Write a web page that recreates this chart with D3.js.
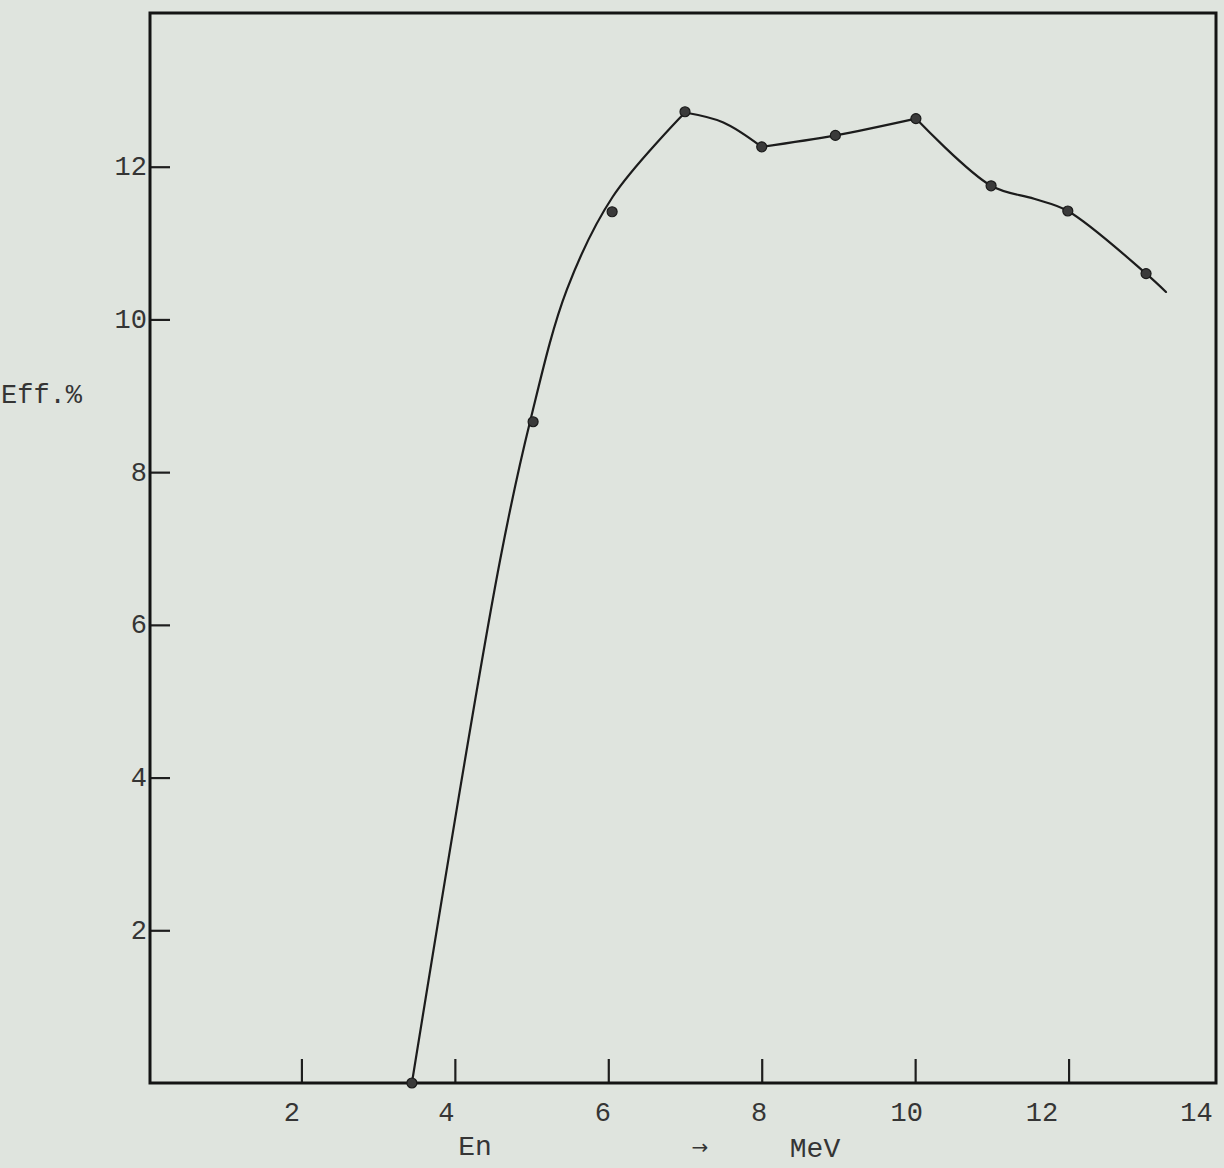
<!DOCTYPE html>
<html>
<head>
<meta charset="utf-8">
<script src="https://cdn.jsdelivr.net/npm/d3@7"></script>
<style>
  html, body { margin: 0; padding: 0; background: #dfe4de; }
  svg { display: block; }
  text { font-family: "Liberation Mono", "DejaVu Sans Mono", monospace; fill: #353535; }
</style>
</head>
<body>
<div id="chart"></div>
<script>
// measured points (neutron energy MeV, efficiency %)
const pointE = [3.44, 5.02, 6.05, 7.00, 8.00, 8.96, 10.01, 10.99, 11.99, 13.01]
const pointEff = [0.0, 8.66, 11.41, 12.72, 12.26, 12.41, 12.63, 11.75, 11.42, 10.60]

// hand drawn curve
const curveE = [3.44, 4.59, 4.98, 5.46, 6.06, 7.00,
  7.50, 8.00, 8.96, 10.01, 10.99, 11.55, 11.99, 13.01, 13.27]
const curveEff = [0.0, 6.85, 8.66, 10.39, 11.61, 12.71,
  12.58, 12.26, 12.41, 12.63, 11.75, 11.58, 11.42, 10.60, 10.36]
// the pen makes a corner at these energies
const cornerE = [7.00, 8.00, 10.01]

const xTicks = [2, 4, 6, 8, 10, 12, 14]
const yTicks = [2, 4, 6, 8, 10, 12]

let width = 1224
let height = 1168

let x = d3.scaleLinear().domain([0, 14]).range([148, 1222])
let y = d3.scaleLinear().domain([0, 14]).range([1083, 14])

// typed labels sit a little left of their ticks
let xLabelShift = { 2: -10, 4: -9, 6: -6, 8: -3, 10: -9, 12: -27, 14: -26 }

let svg = d3.select('#chart').append('svg')
  .attr('width', width)
  .attr('height', height)

// x axis
let xAxis = svg.append('g')
  .attr('class', 'x axis')
  .attr('transform', 'translate(0,' + y(0) + ')')
  .call(d3.axisBottom(x).tickValues(xTicks).tickSize(-24).tickSizeOuter(0))
xAxis.select('.domain').remove()
xAxis.selectAll('.tick line')
  .attr('stroke', '#1e1e1e')
  .attr('stroke-width', 2.2)
  .filter(d => d === 14).remove()
xAxis.selectAll('.tick text')
  .attr('y', 38)
  .attr('dy', 0)
  .attr('dx', d => xLabelShift[d])
  .style('font-size', '27px')

// y axis
let yAxis = svg.append('g')
  .attr('class', 'y axis')
  .attr('transform', 'translate(' + 150 + ',0)')
  .call(d3.axisLeft(y).tickValues(yTicks).tickSize(-20).tickSizeOuter(0))
yAxis.select('.domain').remove()
yAxis.selectAll('.tick line')
  .attr('stroke', '#1e1e1e')
  .attr('stroke-width', 2.2)
yAxis.selectAll('.tick text')
  .attr('x', -3)
  .attr('dy', '0.3em')
  .style('font-size', '27px')

// frame
svg.append('rect')
  .attr('x', 150)
  .attr('y', y(14) - 1)
  .attr('width', x(14) - 6 - 150)
  .attr('height', y(0) - y(14) + 1)
  .attr('fill', 'none')
  .attr('stroke', '#141414')
  .attr('stroke-width', 3)

// curve, split into smooth pieces at the corners
let pts = curveE.map((e, i) => [e, curveEff[i]])
let segments = []
let cur = []
pts.forEach(p => {
  cur.push(p)
  if (cornerE.includes(p[0])) {
    segments.push(cur)
    cur = [p]
  }
})
segments.push(cur)

let line = d3.line()
  .x(d => x(d[0]))
  .y(d => y(d[1]))
  .curve(d3.curveCatmullRom.alpha(0.5))

svg.selectAll('.curve')
  .data(segments)
  .enter().append('path')
  .attr('class', 'curve')
  .attr('d', line)
  .attr('fill', 'none')
  .attr('stroke', '#1c1c1c')
  .attr('stroke-width', 2.2)
  .attr('stroke-linejoin', 'round')
  .attr('stroke-linecap', 'round')

svg.selectAll('.pt')
  .data(pointE.map((e, i) => [e, pointEff[i]]))
  .enter().append('circle')
  .attr('class', 'pt')
  .attr('cx', d => x(d[0]))
  .attr('cy', d => y(d[1]))
  .attr('r', 5)
  .attr('fill', '#3a3a3a')
  .attr('stroke', '#1a1a1a')
  .attr('stroke-width', 1.2)

// axis titles
svg.append('text')
  .attr('x', 82)
  .attr('y', 403)
  .attr('text-anchor', 'end')
  .style('font-size', '27px')
  .text('Eff.%')

svg.append('text')
  .attr('x', 475)
  .attr('y', 1155)
  .attr('text-anchor', 'middle')
  .style('font-size', '28px')
  .text('En')

svg.append('text')
  .attr('x', 700)
  .attr('y', 1154)
  .attr('text-anchor', 'middle')
  .style('font-family', '"DejaVu Sans", sans-serif')
  .style('font-size', '20px')
  .text('→')

svg.append('text')
  .attr('x', 815)
  .attr('y', 1157)
  .attr('text-anchor', 'middle')
  .style('font-size', '28px')
  .text('MeV')
</script>
</body>
</html>
